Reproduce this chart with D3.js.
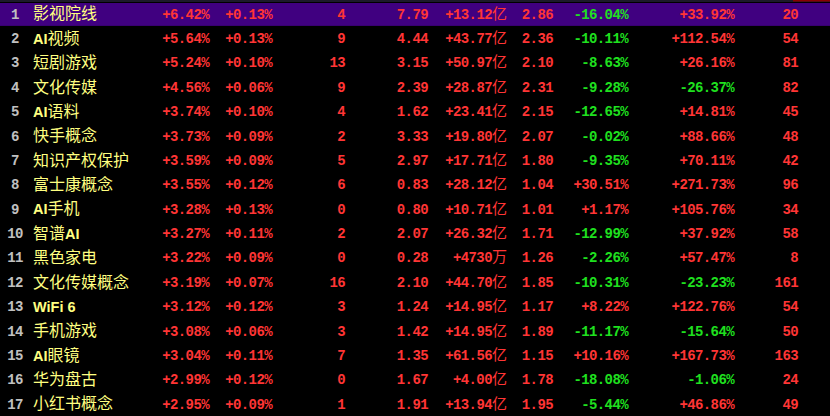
<!DOCTYPE html>
<html>
<head>
<meta charset="utf-8">
<script src="https://d3js.org/d3.v7.min.js"></script>
<style>
  body { margin: 0; background: #000; }
  svg { display: block; }
</style>
</head>
<body>
<div id="board"></div>
<script>
// sector names and the numbers shown in each column
const names = ["影视院线", "AI视频", "短剧游戏", "文化传媒", "AI语料", "快手概念", "知识产权保护", "富士康概念", "AI手机",
  "智谱AI", "黑色家电", "文化传媒概念", "WiFi 6", "手机游戏", "AI眼镜", "华为盘古", "小红书概念"];
const changePct = [6.42, 5.64, 5.24, 4.56, 3.74, 3.73, 3.59, 3.55, 3.28, 3.27, 3.22, 3.19, 3.12, 3.08, 3.04, 2.99, 2.95];
const speedPct = [0.13, 0.13, 0.10, 0.06, 0.10, 0.09, 0.09, 0.12, 0.13, 0.11, 0.09, 0.07, 0.12, 0.06, 0.11, 0.12, 0.09];
const limitUp = [4, 9, 13, 9, 4, 2, 5, 6, 0, 2, 0, 16, 3, 3, 7, 0, 1];
const ratio1 = [7.79, 4.44, 3.15, 2.39, 1.62, 3.33, 2.97, 0.83, 0.80, 2.07, 0.28, 2.10, 1.24, 1.42, 1.35, 1.67, 1.91];
const netFlow = ["+13.12亿", "+43.77亿", "+50.97亿", "+28.87亿", "+23.41亿", "+19.80亿", "+17.71亿", "+28.12亿", "+10.71亿",
  "+26.32亿", "+4730万", "+44.70亿", "+14.95亿", "+14.95亿", "+61.56亿", "+4.00亿", "+13.94亿"];
const ratio2 = [2.86, 2.36, 2.10, 2.31, 2.15, 2.07, 1.80, 1.04, 1.01, 1.71, 1.26, 1.85, 1.17, 1.89, 1.15, 1.78, 1.95];
const pct20d = [-16.04, -10.11, -8.63, -9.28, -12.65, -0.02, -9.35, 30.51, 1.17, -12.99, -2.26, -10.31, 8.22, -11.17, 10.16, -18.08, -5.44];
const pctYear = [33.92, 112.54, 26.16, -26.37, 14.81, 88.66, 70.11, 271.73, 105.76, 37.92, 57.47, -23.23, 122.76, -15.64, 167.73, -1.06, 46.86];
const members = [20, 54, 81, 82, 45, 48, 42, 96, 34, 58, 8, 161, 54, 50, 163, 24, 49];

const W = 830, H = 416;
const RED = "#ff3535", GREEN = "#1fe01f", GRAY = "#c0c0c0", YELLOW = "#ffff80";
const MONO = "'Liberation Mono', 'DejaVu Sans Mono', monospace";

const svg = d3.select("#board").append("svg").attr("width", W).attr("height", H);
svg.append("rect").attr("width", W).attr("height", H).attr("fill", "#000");

const y = d3.scaleBand().domain(d3.range(names.length)).range([1, H - 0.6]);

// top strip + selected row
svg.append("rect").attr("x", 0).attr("y", 0).attr("width", W).attr("height", 2).attr("fill", "#1c1a2a");
svg.append("rect").attr("x", 793).attr("y", 0).attr("width", W - 793).attr("height", 1.5).attr("fill", "#8a0000");
svg.append("rect").attr("x", 0).attr("y", y(0) + 2).attr("width", W).attr("height", y.bandwidth() - 1.5).attr("fill", "#400080");

const signed = (v, d) => (v > 0 ? "+" : "") + v.toFixed(d);
const upDown = v => v >= 0 ? RED : GREEN;

// numeric columns: right edge, text, colour
const columns = [
  { x: 209, text: i => signed(changePct[i], 2) + "%", color: () => RED },
  { x: 272, text: i => signed(speedPct[i], 2) + "%", color: () => RED },
  { x: 345, text: i => String(limitUp[i]), color: () => RED },
  { x: 428, text: i => ratio1[i].toFixed(2), color: () => RED },
  { x: 507, text: i => netFlow[i], color: () => RED },
  { x: 553, text: i => ratio2[i].toFixed(2), color: () => RED },
  { x: 628, text: i => signed(pct20d[i], 2) + "%", color: i => upDown(pct20d[i]) },
  { x: 734, text: i => signed(pctYear[i], 2) + "%", color: i => upDown(pctYear[i]) },
  { x: 798, text: i => String(members[i]), color: () => RED }
];

const rows = svg.selectAll("g.row").data(d3.range(names.length)).join("g")
  .attr("class", "row")
  .attr("transform", i => `translate(0,${y(i) + y.bandwidth() / 2 + 0.5})`);

rows.append("text")
  .attr("x", 15).attr("dy", "0.36em").attr("text-anchor", "middle")
  .attr("font-family", MONO).attr("font-size", 14).attr("font-weight", "bold")
  .attr("letter-spacing", -0.6)
  .attr("fill", GRAY)
  .text(i => i + 1);

// names: latin runs in bold sans, CJK in Noto
rows.append("text")
  .attr("x", 33).attr("dy", "0.36em")
  .attr("fill", YELLOW)
  .each(function (i) {
    const t = d3.select(this);
    const parts = names[i].match(/[A-Za-z0-9 ]+|[^A-Za-z0-9 ]+/g);
    parts.forEach(p => {
      const latin = /^[A-Za-z0-9 ]+$/.test(p);
      t.append("tspan")
        .attr("font-family", latin ? "'Liberation Sans', Arial, sans-serif" : "'Noto Sans CJK SC', sans-serif")
        .attr("font-weight", latin ? "bold" : "normal")
        .attr("font-size", latin ? 14.5 : 16)
        .attr("xml:space", "preserve")
        .text(p);
    });
  });

columns.forEach(c => {
  rows.append("text")
    .attr("x", c.x).attr("dy", "0.36em").attr("text-anchor", "end")
    .attr("font-size", 14).attr("font-weight", "bold")
    .attr("fill", i => c.color(i))
    .each(function (i) {
      const t = d3.select(this);
      const s = c.text(i);
      const m = s.match(/^(.*?)([亿万]?)$/);
      t.append("tspan").attr("font-family", MONO).attr("letter-spacing", -0.6).text(m[1]);
      if (m[2]) t.append("tspan").attr("font-family", "'Noto Sans CJK SC', sans-serif")
        .attr("font-weight", "normal").attr("font-size", 15).text(m[2]);
    });
});
</script>
</body>
</html>
